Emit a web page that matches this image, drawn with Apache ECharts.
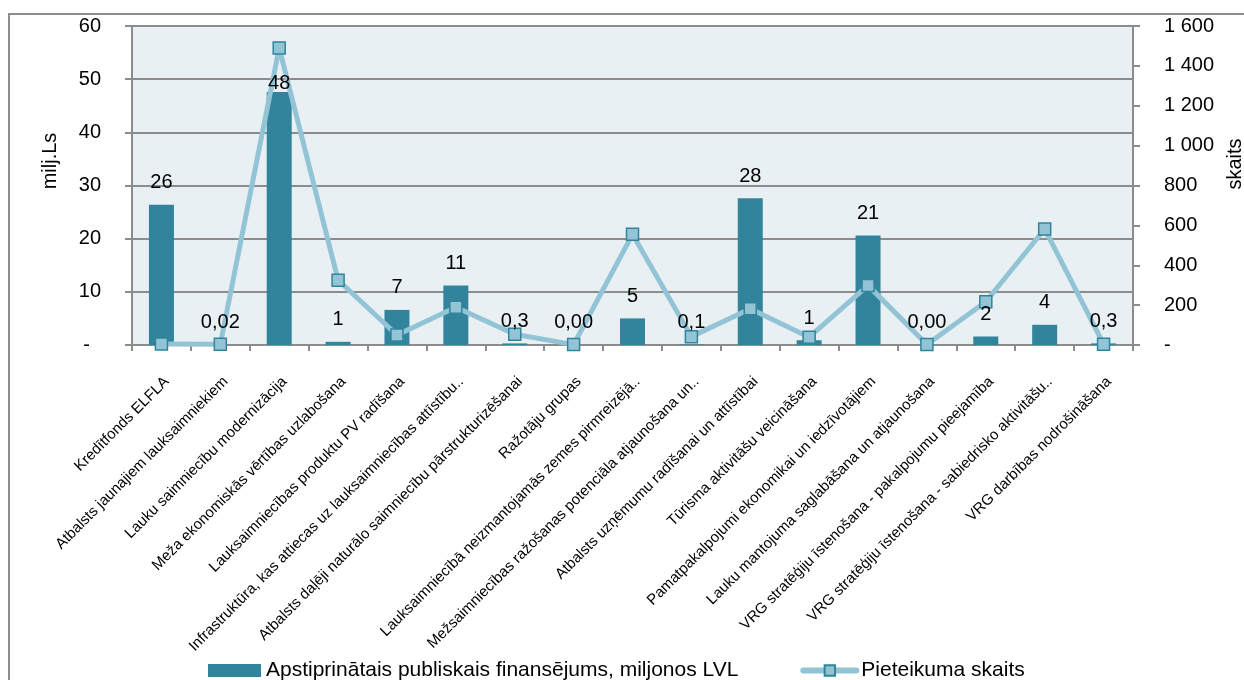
<!DOCTYPE html>
<html>
<head>
<meta charset="utf-8">
<script src="https://cdn.jsdelivr.net/npm/echarts@6/dist/echarts.min.js"></script>
<style>
  html, body { margin: 0; padding: 0; background: #fff; }
  #frame { position: absolute; left: 8px; top: 13px; width: 1300px; height: 700px;
           border-left: 2px solid #8c8c8c; border-top: 2px solid #8c8c8c; }
  #chart { position: absolute; left: 0; top: 0; width: 1244px; height: 680px; }
</style>
</head>
<body>
<div id="frame"></div>
<div id="chart"></div>
<script>
  var categories = [
    'Kredītfonds ELFLA',
    'Atbalsts jaunajiem lauksaimniekiem',
    'Lauku saimniecību modernizācija',
    'Meža ekonomiskās vērtības uzlabošana',
    'Lauksaimniecības produktu PV radīšana',
    'Infrastruktūra, kas attiecas uz lauksaimniecības attīstību..',
    'Atbalsts daļēji naturālo saimniecību pārstrukturizēšanai',
    'Ražotāju grupas',
    'Lauksaimniecībā neizmantojamās zemes pirmreizējā..',
    'Mežsaimniecības ražošanas potenciāla atjaunošana un..',
    'Atbalsts uzņēmumu radīšanai un attīstībai',
    'Tūrisma aktivitāšu veicināšana',
    'Pamatpakalpojumi ekonomikai un iedzīvotājiem',
    'Lauku mantojuma saglabāšana un atjaunošana',
    'VRG stratēģiju īstenošana - pakalpojumu pieejamība',
    'VRG stratēģiju īstenošana - sabiedrisko aktivitāšu..',
    'VRG darbības nodrošināšana'
  ];
  // miljonos LVL
  var funding = [26.4, 0.02, 47.6, 0.6, 6.6, 11.2, 0.3, 0.004, 5.0, 0.1, 27.6, 0.9, 20.6, 0.004, 1.6, 3.8, 0.3];
  // pieteikumu skaits
  var applications = [5, 4, 1490, 325, 50, 189, 54, 2, 555, 42, 182, 39, 299, 2, 217, 582, 4];

  var font = 'Liberation Sans';
  var gridColor = '#8c8c8c';
  var barName = 'Apstiprinātais publiskais finansējums, miljonos LVL';
  var lineName = 'Pieteikuma skaits';

  function fmtLabel(v) {
    if (v >= 0.5) return String(Math.round(v));
    if (v < 0.005) return '0,00';
    return String(v).replace('.', ',');
  }
  function fmtRight(v) {
    if (v === 0) return '-';
    return String(v).replace(/\B(?=(\d{3})+(?!\d))/g, ' ');
  }

  var maxFund = Math.max.apply(null, funding);
  // labels drawn by a transparent copy of the bars so they sit above the line
  var labelData = funding.map(function (v) {
    if (v === maxFund) return { value: v, label: { distance: -2 } };
    return v;
  });

  var chart = echarts.init(document.getElementById('chart'));
  chart.setOption({
    animation: false,
    textStyle: { fontFamily: font },
    grid: {
      left: 132, right: 111, top: 26, bottom: 335,
      show: true, backgroundColor: '#e9f0f4', borderWidth: 0
    },
    legend: {
      left: 203, top: 655,
      itemWidth: 53, itemHeight: 13, itemGap: 62,
      textStyle: { fontFamily: font, fontSize: 21, color: '#000' },
      data: [
        { name: barName, icon: 'rect' },
        { name: lineName, lineStyle: { width: 6, color: '#93c4d6', cap: 'round' } }
      ]
    },
    xAxis: {
      type: 'category',
      data: categories,
      boundaryGap: true,
      axisLine: { lineStyle: { color: gridColor, width: 2 } },
      axisTick: { show: true, interval: 0, length: 6, lineStyle: { color: gridColor, width: 2 } },
      axisLabel: {
        interval: 0, rotate: 45, margin: 29,
        verticalAlign: 'top',
        fontFamily: font, fontSize: 15, color: '#000'
      }
    },
    yAxis: [
      {
        type: 'value', min: 0, max: 60, interval: 10,
        axisLine: { show: true, lineStyle: { color: gridColor, width: 2 } },
        axisTick: { show: true, length: 7, lineStyle: { color: gridColor, width: 2 } },
        splitLine: { lineStyle: { color: gridColor, width: 2 } },
        axisLabel: {
          margin: 31, fontFamily: font, fontSize: 20, color: '#000',
          formatter: function (v) { return v === 0 ? '-  ' : String(v); }
        }
      },
      {
        type: 'value', min: 0, max: 1600, interval: 200,
        position: 'right',
        axisLine: { show: true, lineStyle: { color: gridColor, width: 2 } },
        axisTick: { show: true, length: 7, lineStyle: { color: gridColor, width: 2 } },
        splitLine: { show: false },
        axisLabel: {
          margin: 31, fontFamily: font, fontSize: 20, color: '#000',
          formatter: fmtRight
        }
      }
    ],
    series: [
      {
        name: barName,
        type: 'bar',
        data: funding,
        barWidth: 25,
        itemStyle: { color: '#31849b' },
        z: 2
      },
      {
        name: lineName,
        type: 'line',
        yAxisIndex: 1,
        data: applications,
        symbol: 'rect',
        symbolSize: 12,
        lineStyle: { color: '#93c4d6', width: 5 },
        itemStyle: { color: '#93c4d6', borderColor: '#31849b', borderWidth: 1.5 },
        z: 3
      },
      {
        name: 'labels',
        type: 'bar',
        data: labelData,
        barWidth: 25,
        barGap: '-100%',
        itemStyle: { color: 'rgba(0,0,0,0)' },
        silent: true,
        z: 5,
        label: {
          show: true, position: 'top', distance: 12,
          fontFamily: font, fontSize: 20, color: '#000',
          formatter: function (p) { return fmtLabel(p.value); }
        }
      }
    ],
    graphic: [
      {
        type: 'text', x: 50, y: 161, rotation: Math.PI / 2,
        style: { text: 'milj.Ls', font: '20px "Liberation Sans"', fill: '#000', align: 'center', verticalAlign: 'middle' }
      },
      {
        type: 'text', x: 1235, y: 164, rotation: Math.PI / 2,
        style: { text: 'skaits', font: '20px "Liberation Sans"', fill: '#000', align: 'center', verticalAlign: 'middle' }
      }
    ]
  });
</script>
</body>
</html>
